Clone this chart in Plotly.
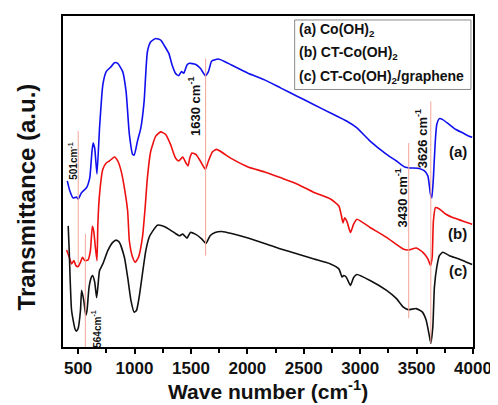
import plotly.graph_objects as go

# ---- data (wavenumber cm^-1, transmittance a.u.) ----
wn_a = [404, 427, 456, 486, 500, 530, 574, 603, 623, 633, 647, 667, 690, 719, 749, 793, 822, 851,
        895, 925, 954, 983, 997, 1026, 1056, 1085, 1114, 1144, 1188, 1232, 1261, 1304, 1333, 1363,
        1377, 1392, 1416, 1436, 1465, 1486, 1539, 1583, 1628, 1655, 1684, 1743, 1802, 1859, 2006,
        2153, 2298, 2445, 2591, 2737, 2883, 2971, 3088, 3234, 3322, 3395, 3439, 3512, 3570, 3600,
        3623, 3635, 3649, 3664, 3679, 3702, 3732, 3790, 3848, 3907, 3965, 3993]
tr_a = [50.2, 47.1, 45.0, 45.3, 44.7, 46.6, 48.1, 51.1, 59.2, 61.6, 60.1, 52.3, 66.2, 79.2, 83.2, 84.7,
        85.9, 85.7, 83.2, 77.2, 64.3, 58.2, 58.0, 62.2, 66.2, 74.2, 89.2, 92.2, 93.2, 92.7, 91.2, 88.7,
        85.2, 82.7, 82.2, 82.0, 83.2, 82.7, 85.2, 85.7, 85.4, 84.2, 82.0, 83.2, 86.4, 87.0, 86.2, 85.2,
        82.7, 80.7, 78.2, 75.7, 73.2, 70.7, 68.2, 66.2, 62.2, 58.2, 56.2, 54.4, 54.1, 54.0, 53.2, 51.7,
        46.2, 45.1, 51.1, 61.2, 67.2, 69.0, 68.7, 67.2, 65.7, 64.7, 63.7, 63.4]

wn_b = [398, 427, 442, 462, 480, 500, 521, 539, 559, 588, 609, 626, 638, 653, 667, 675, 690, 719, 749,
        778, 822, 851, 881, 910, 939, 954, 983, 1006, 1035, 1070, 1094, 1114, 1144, 1188, 1232, 1276,
        1319, 1363, 1392, 1427, 1456, 1474, 1490, 1509, 1544, 1583, 1628, 1655, 1690, 1728, 1860, 2006,
        2153, 2298, 2445, 2591, 2737, 2811, 2831, 2848, 2862, 2883, 2914, 2942, 2971, 3088, 3234, 3381,
        3425, 3497, 3556, 3600, 3623, 3638, 3649, 3667, 3702, 3761, 3819, 3907, 3993]
tr_b = [29.3, 26.6, 25.1, 26.1, 24.6, 24.3, 25.6, 27.1, 26.1, 26.3, 29.1, 36.5, 35.1, 30.1, 26.1, 37.1,
        46.2, 53.7, 55.6, 56.2, 57.4, 56.2, 53.2, 48.1, 41.1, 32.1, 27.1, 25.6, 27.1, 33.1, 42.1, 51.1,
        59.2, 63.7, 65.0, 64.2, 61.2, 57.1, 56.2, 57.4, 55.6, 54.7, 57.1, 58.6, 58.2, 56.2, 53.7, 56.2,
        58.9, 59.7, 56.9, 54.4, 52.9, 51.1, 49.2, 46.7, 44.7, 42.6, 40.1, 37.5, 39.0, 37.9, 34.6, 37.1,
        38.6, 36.1, 33.1, 29.6, 29.3, 29.9, 28.6, 26.6, 24.6, 27.1, 38.1, 42.1, 41.7, 40.1, 39.1, 38.1,
        37.1]

wn_c = [412, 421, 442, 471, 484, 500, 521, 531, 550, 568, 579, 597, 618, 629, 647, 664, 675, 690, 719,
        763, 807, 837, 866, 910, 939, 968, 997, 1018, 1041, 1070, 1100, 1129, 1173, 1202, 1246, 1304,
        1363, 1398, 1427, 1465, 1495, 1539, 1597, 1633, 1670, 1714, 1772, 1860, 2006, 2153, 2298, 2445,
        2591, 2737, 2811, 2840, 2854, 2877, 2914, 2942, 2971, 3088, 3234, 3322, 3381, 3425, 3497, 3550,
        3585, 3609, 3626, 3644, 3658, 3679, 3702, 3732, 3790, 3877, 3993]
tr_c = [36.6, 29.1, 11.1, 5.6, 4.8, 5.6, 11.1, 17.1, 14.1, 9.6, 11.1, 18.1, 21.1, 21.6, 19.6, 14.9,
        18.1, 23.1, 25.1, 29.1, 31.6, 32.3, 31.6, 27.1, 21.1, 14.1, 10.5, 11.1, 15.1, 22.1, 29.1, 33.1,
        35.6, 36.8, 36.6, 35.6, 34.3, 33.6, 34.1, 32.9, 34.6, 34.1, 32.6, 31.3, 33.6, 34.6, 34.9, 34.3,
        32.9, 31.3, 29.6, 28.1, 26.6, 25.1, 23.6, 21.1, 21.6, 21.1, 18.6, 21.0, 21.9, 20.1, 17.1, 14.6,
        12.1, 11.3, 11.6, 10.6, 8.1, 4.1, 1.1, 6.1, 18.1, 24.1, 27.6, 28.6, 27.6, 26.6, 24.9]

# marker lines for assigned bands
band_pos = [501, 564, 1630, 3430, 3626]
band_top = [65.2, 34.2, 87.1, 61.6, 74.2]
band_bot = [25.2, 0.0, 27.6, 8.7, 1.2]

# band labels (text, x, y, size)
band_text = ["501cm<sup>-1</sup>", "564cm<sup>-1</sup>", "1630 cm<sup>-1</sup>",
             "3430 cm<sup>-1</sup>", "3626 cm<sup>-1</sup>"]
band_lx = [453, 664, 1532, 3366, 3541]
band_ly = [56.2, 5.4, 72.7, 45.0, 62.8]
band_fs = [10, 10, 13, 13, 13]

curve_tags = ["(a)", "(b)", "(c)"]
tag_x = [3865, 3865, 3865]
tag_y = [59.2, 34.2, 23.1]

legend_lines = ["(a) Co(OH)<sub>2</sub>", "(b) CT-Co(OH)<sub>2</sub>",
                "(c) CT-Co(OH)<sub>2</sub>/graphene"]

x_ticks = [500, 1000, 1500, 2000, 2500, 3000, 3500, 4000]

FONT = "Arial, Liberation Sans, sans-serif"

fig = go.Figure()

for xs, ys, col in [(wn_a, tr_a, "#1010ee"), (wn_b, tr_b, "#ee1010"), (wn_c, tr_c, "#111111")]:
    fig.add_trace(go.Scatter(x=xs, y=ys, mode="lines",
                             line=dict(color=col, width=1.6, shape="spline", smoothing=0.5),
                             showlegend=False, hoverinfo="skip"))

for bx, bt, bb in zip(band_pos, band_top, band_bot):
    fig.add_trace(go.Scatter(x=[bx, bx], y=[bb, bt], mode="lines",
                             line=dict(color="#f3a596", width=1), showlegend=False,
                             hoverinfo="skip"))

for t, lx, ly, fs in zip(band_text, band_lx, band_ly, band_fs):
    fig.add_annotation(x=lx, y=ly, xref="x", yref="y", text="<b>" + t + "</b>",
                       textangle=-90, showarrow=False,
                       font=dict(family=FONT, size=fs, color="#111"))

for t, tx, ty in zip(curve_tags, tag_x, tag_y):
    fig.add_annotation(x=tx, y=ty, xref="x", yref="y", text="<b>" + t + "</b>",
                       showarrow=False, font=dict(family=FONT, size=15, color="#111"))

# legend box
fig.add_shape(type="rect", xref="paper", yref="paper", x0=0.565, x1=0.995, y0=0.778, y1=0.988,
              line=dict(color="#8a8a8a", width=1), fillcolor="white", layer="below")
for i, t in enumerate(legend_lines):
    fig.add_annotation(x=0.571, y=0.958 - i * 0.0705, xref="paper", yref="paper",
                       text="<b>" + t + "</b>", showarrow=False, xanchor="left",
                       yanchor="middle", font=dict(family=FONT, size=14, color="#111"))

# axis titles
fig.add_annotation(x=0.5, y=-0.13, xref="paper", yref="paper",
                   text="<b>Wave number (cm<sup>-1</sup>)</b>", showarrow=False,
                   yanchor="middle", font=dict(family=FONT, size=21, color="#111"))
fig.add_annotation(x=-0.0894, y=0.453, xref="paper", yref="paper",
                   text="<b>Transmittance (a.u.)</b>", showarrow=False, textangle=-90,
                   xanchor="center", yanchor="middle",
                   font=dict(family=FONT, size=24, color="#111"))

fig.update_xaxes(range=[366, 4000], tickvals=x_ticks,
                 ticktext=["<b>%d</b>" % v for v in x_ticks],
                 ticks="outside", ticklen=5, tickwidth=1.5, tickcolor="black",
                 minor=dict(tickvals=[750, 1250, 1750, 2250, 2750, 3250, 3750],
                            ticks="outside", ticklen=4, tickwidth=1.5, tickcolor="black"),
                 showline=True, linewidth=2, linecolor="black", mirror=True,
                 showgrid=False, zeroline=False,
                 tickfont=dict(family=FONT, size=17, color="#111"))
fig.update_yaxes(range=[0, 100], showticklabels=False, ticks="",
                 showline=True, linewidth=2, linecolor="black", mirror=True,
                 showgrid=False, zeroline=False)

# page body has an 8px margin, so the figure is 8px smaller and margins shifted
fig.update_layout(width=490, height=397, plot_bgcolor="white", paper_bgcolor="white",
                  margin=dict(l=55, r=21, t=6, b=58), showlegend=False)

fig.write_html("out.html")
